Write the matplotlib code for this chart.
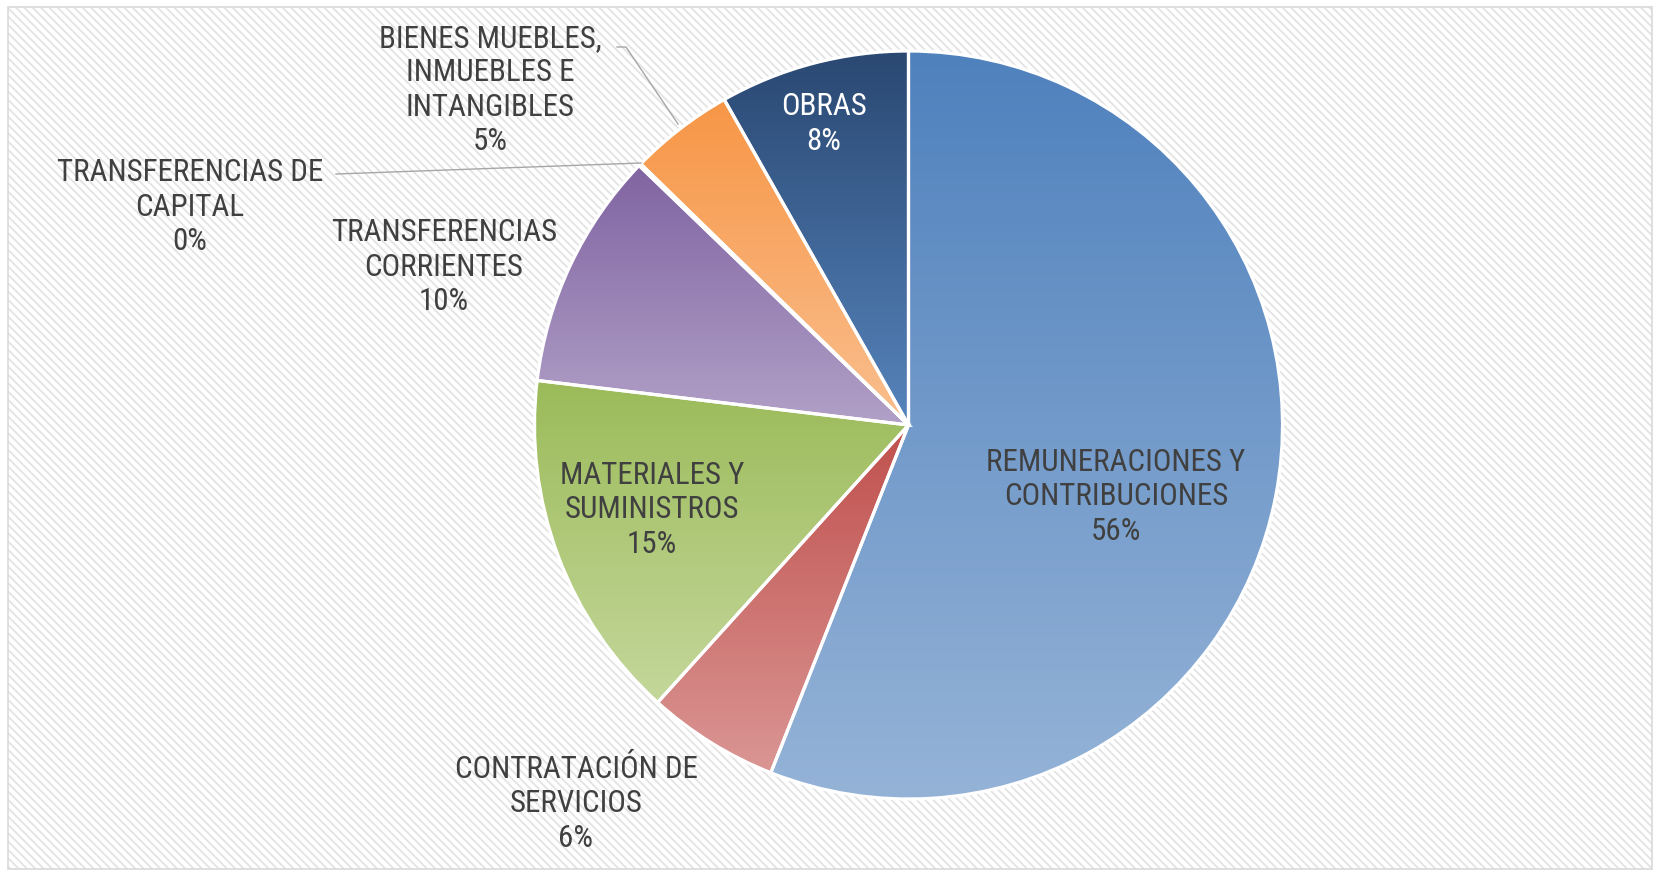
import numpy as np
import matplotlib
matplotlib.use("Agg")
import matplotlib.pyplot as plt
from matplotlib.patches import Rectangle
from matplotlib.colors import to_rgb
from matplotlib import font_manager

# ---- data ----
categories = ["REMUNERACIONES Y\nCONTRIBUCIONES", "CONTRATACIÓN DE\nSERVICIOS",
              "MATERIALES Y\nSUMINISTROS", "TRANSFERENCIAS\nCORRIENTES",
              "TRANSFERENCIAS DE\nCAPITAL", "BIENES MUEBLES,\nINMUEBLES E\nINTANGIBLES",
              "OBRAS"]
values = [56.0, 5.7, 15.2, 10.3, 0.1, 4.5, 8.2]
pct_labels = ["56%", "6%", "15%", "10%", "0%", "5%", "8%"]

top_colors = ["#4F81BD", "#C0504D", "#9BBB59", "#8064A2", "#4BACC6", "#F79646", "#2A4872"]
bot_colors = ["#95B3D7", "#DA9694", "#C4D79B", "#B1A0C7", "#92CDDC", "#FABF8F", "#5684BC"]

W, H = 1659, 878
plt.rcParams['hatch.linewidth'] = 1.3
fig = plt.figure(figsize=(W / 100, H / 100), dpi=100)
ax = fig.add_axes([0, 0, 1, 1])

def Y(y):
    return H - y

# background stripes + border
ax.add_patch(Rectangle((8, Y(870)), 1644, 862, facecolor='white', edgecolor='#E3E3E3',
                       hatch='\\\\\\\\', linewidth=0, zorder=0))
ax.add_patch(Rectangle((8, Y(870)), 1644, 862, facecolor='none', edgecolor='#D9D9D9',
                       linewidth=1.2, zorder=0.5))

cx, cy, r = 908.5, Y(426), 374
wedges, _ = ax.pie(values, startangle=90, counterclock=False, center=(cx, cy), radius=r,
                   wedgeprops=dict(edgecolor='white', linewidth=2.3), frame=True)

for w, c0, c1 in zip(wedges, top_colors, bot_colors):
    w.set_facecolor('none')
    w.set_zorder(3)
    bb = w.get_path().get_extents()
    t = np.linspace(0, 1, 256)[:, None]
    a = np.array(to_rgb(c1)); b = np.array(to_rgb(c0))
    grad = (a[None, :] * (1 - t) + b[None, :] * t)[:, None, :]
    im = ax.imshow(grad, origin='lower', extent=(bb.x0, bb.x1, bb.y0, bb.y1),
                   aspect='auto', interpolation='bilinear', zorder=2)
    im.set_clip_path(w)

ax.set_xlim(0, W)
ax.set_ylim(0, H)
ax.set_aspect('auto')
ax.axis('off')

avail = {f.name for f in font_manager.fontManager.ttflist}
choice, fsize, lsp = 'DejaVu Sans', 17, 1.32
for name, s, l in [('Roboto Condensed', 22.3, 1.22), ('Liberation Sans Narrow', 21, 1.2),
                   ('Lato', 19, 1.3)]:
    if name in avail:
        choice, fsize, lsp = name, s, l
        break
fam = [choice, 'DejaVu Sans']
txt = '#404040'
label_pos = [(1116, 497), (576, 804), (652, 510), (444, 267), (190, 207), (490, 90), (824, 124)]
for i, (cat, p) in enumerate(zip(categories, pct_labels)):
    x, y = label_pos[i]
    col = 'white' if i == 6 else txt
    ax.text(x, Y(y), cat + "\n" + p, ha='center', va='center', fontsize=fsize,
            family=fam, color=col, linespacing=lsp, zorder=5)

# leader lines
lc = '#A6A6A6'
ax.plot([617, 626, 678], [Y(48), Y(48), Y(125)], color=lc, lw=1, zorder=4)
ax.plot([336, 641], [Y(175), Y(164)], color=lc, lw=1, zorder=4)

fig.savefig('out.png', dpi=100)
